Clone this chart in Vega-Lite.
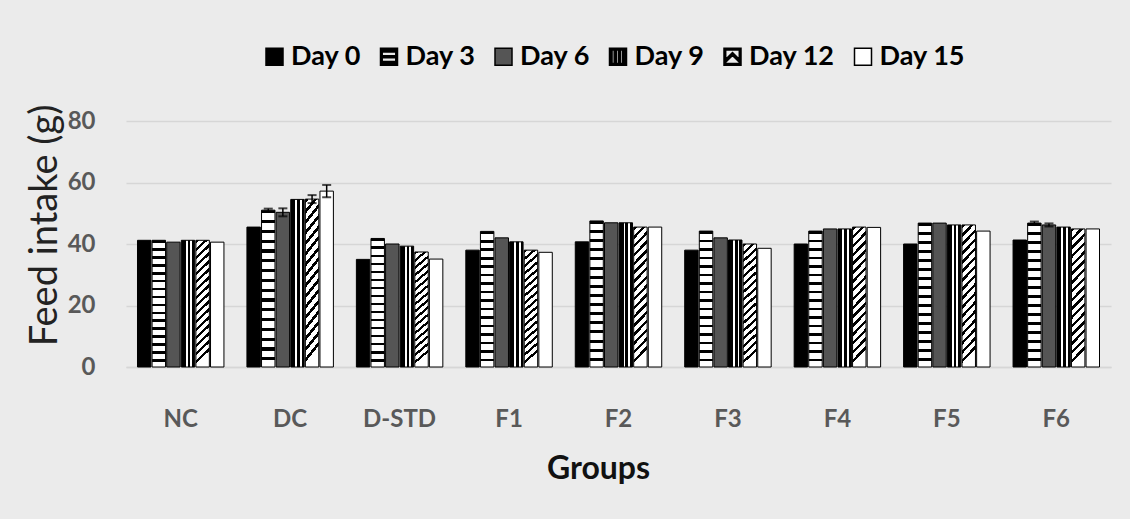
{
  "$schema": "https://vega.github.io/schema/vega-lite/v6.json",
  "width": 985,
  "height": 246,
  "autosize": {"type": "none"},
  "padding": {"left": 126, "top": 121, "right": 19, "bottom": 152},
  "background": "#ebebeb",
  "config": {
    "view": {"stroke": null},
    "font": "Lato",
    "legend": {
      "title": null, "orient": "none", "direction": "horizontal",
      "legendX": 135, "legendY": -78,
      "symbolSize": 289,
      "labelFont": "Lato", "labelFontSize": 27, "labelFontWeight": "bold", "labelColor": "#000000",
      "labelOffset": 3, "columnPadding": 14.5, "symbolOpacity": 1
    }
  },
  "datasets": {
    "bars": [
      {"group": "NC", "day": "Day 0", "value": 41.2},
      {"group": "NC", "day": "Day 3", "value": 41.2},
      {"group": "NC", "day": "Day 6", "value": 40.6},
      {"group": "NC", "day": "Day 9", "value": 41.2},
      {"group": "NC", "day": "Day 12", "value": 41.2},
      {"group": "NC", "day": "Day 15", "value": 40.6},
      {"group": "DC", "day": "Day 0", "value": 45.5},
      {"group": "DC", "day": "Day 3", "value": 51.0},
      {"group": "DC", "day": "Day 6", "value": 50.3},
      {"group": "DC", "day": "Day 9", "value": 54.5},
      {"group": "DC", "day": "Day 12", "value": 54.6},
      {"group": "DC", "day": "Day 15", "value": 57.2},
      {"group": "D-STD", "day": "Day 0", "value": 35.0},
      {"group": "D-STD", "day": "Day 3", "value": 41.8},
      {"group": "D-STD", "day": "Day 6", "value": 40.0},
      {"group": "D-STD", "day": "Day 9", "value": 39.3},
      {"group": "D-STD", "day": "Day 12", "value": 37.4},
      {"group": "D-STD", "day": "Day 15", "value": 35.1},
      {"group": "F1", "day": "Day 0", "value": 38.0},
      {"group": "F1", "day": "Day 3", "value": 44.1},
      {"group": "F1", "day": "Day 6", "value": 42.0},
      {"group": "F1", "day": "Day 9", "value": 40.7},
      {"group": "F1", "day": "Day 12", "value": 38.0},
      {"group": "F1", "day": "Day 15", "value": 37.3},
      {"group": "F2", "day": "Day 0", "value": 40.7},
      {"group": "F2", "day": "Day 3", "value": 47.5},
      {"group": "F2", "day": "Day 6", "value": 46.9},
      {"group": "F2", "day": "Day 9", "value": 46.9},
      {"group": "F2", "day": "Day 12", "value": 45.5},
      {"group": "F2", "day": "Day 15", "value": 45.5},
      {"group": "F3", "day": "Day 0", "value": 38.0},
      {"group": "F3", "day": "Day 3", "value": 44.2},
      {"group": "F3", "day": "Day 6", "value": 42.0},
      {"group": "F3", "day": "Day 9", "value": 41.3},
      {"group": "F3", "day": "Day 12", "value": 40.0},
      {"group": "F3", "day": "Day 15", "value": 38.6},
      {"group": "F4", "day": "Day 0", "value": 40.0},
      {"group": "F4", "day": "Day 3", "value": 44.2},
      {"group": "F4", "day": "Day 6", "value": 44.9},
      {"group": "F4", "day": "Day 9", "value": 44.9},
      {"group": "F4", "day": "Day 12", "value": 45.5},
      {"group": "F4", "day": "Day 15", "value": 45.4},
      {"group": "F5", "day": "Day 0", "value": 40.0},
      {"group": "F5", "day": "Day 3", "value": 46.8},
      {"group": "F5", "day": "Day 6", "value": 46.8},
      {"group": "F5", "day": "Day 9", "value": 46.2},
      {"group": "F5", "day": "Day 12", "value": 46.2},
      {"group": "F5", "day": "Day 15", "value": 44.2},
      {"group": "F6", "day": "Day 0", "value": 41.3},
      {"group": "F6", "day": "Day 3", "value": 46.8},
      {"group": "F6", "day": "Day 6", "value": 46.2},
      {"group": "F6", "day": "Day 9", "value": 45.5},
      {"group": "F6", "day": "Day 12", "value": 44.9},
      {"group": "F6", "day": "Day 15", "value": 44.9}
    ],
    "errs": [
      {"group": "DC", "day": "Day 3", "lo": 50.5, "hi": 51.5},
      {"group": "DC", "day": "Day 6", "lo": 49.0, "hi": 51.6},
      {"group": "DC", "day": "Day 12", "lo": 53.3, "hi": 55.9},
      {"group": "DC", "day": "Day 15", "lo": 55.2, "hi": 59.2},
      {"group": "F6", "day": "Day 3", "lo": 46.3, "hi": 47.3},
      {"group": "F6", "day": "Day 6", "lo": 45.7, "hi": 46.7}
    ]
  },
  "layer": [
    {
      "data": {"name": "bars"},
      "mark": {"type": "bar", "stroke": "black", "strokeWidth": 1},
      "encoding": {
        "x": {
          "field": "group", "type": "nominal",
          "sort": ["NC", "DC", "D-STD", "F1", "F2", "F3", "F4", "F5", "F6"],
          "scale": {"paddingInner": 0.21, "paddingOuter": 0.105},
          "axis": {
            "title": "Groups", "labelAngle": 0, "ticks": false,
            "domainColor": "#d6d6d6", "domainWidth": 1.5,
            "labelFont": "Lato", "labelFontSize": 24, "labelFontWeight": "bold", "labelColor": "#595959",
            "labelPadding": 40, "labelBaseline": "top",
            "titleFont": "Lato", "titleFontSize": 32, "titleFontWeight": "bold", "titleColor": "#111111",
            "titleX": 472, "titleY": 101, "titleBaseline": "middle", "titleAnchor": null, "titleAlign": "center"
          }
        },
        "xOffset": {
          "field": "day", "type": "nominal",
          "sort": ["Day 0", "Day 3", "Day 6", "Day 9", "Day 12", "Day 15"],
          "scale": {"domain": ["Day 0", "Day 3", "Day 6", "Day 9", "Day 12", "Day 15"], "paddingInner": 0.08, "paddingOuter": 0}
        },
        "y": {
          "field": "value", "type": "quantitative",
          "scale": {"domain": [0, 80], "nice": false},
          "axis": {
            "values": [0, 20, 40, 60, 80], "ticks": false, "domain": false,
            "gridColor": "#d6d6d6", "gridWidth": 1.5,
            "labelFont": "Lato", "labelFontSize": 24, "labelFontWeight": "bold", "labelColor": "#595959",
            "labelPadding": 31,
            "title": "Feed intake (g)",
            "titleFont": "Lato", "titleFontSize": 38, "titleFontWeight": "normal", "titleColor": "#222222",
            "titleX": -81, "titleY": 104, "titleAngle": -90, "titleAlign": "center", "titleBaseline": "middle", "titleAnchor": null
          }
        },
        "color": {
          "condition": [
            {"test": "datum.day === 'Day 3'", "value": {"gradient": "linear", "x1": 0, "y1": 0, "x2": 0, "y2": 1, "stops": [
                {"offset": 0, "color": "black"}, {"offset": 0.02, "color": "black"}, {"offset": 0.02, "color": "white"}, {"offset": 0.0625, "color": "white"},
                {"offset": 0.0625, "color": "black"}, {"offset": 0.0825, "color": "black"}, {"offset": 0.0825, "color": "white"}, {"offset": 0.125, "color": "white"},
                {"offset": 0.125, "color": "black"}, {"offset": 0.145, "color": "black"}, {"offset": 0.145, "color": "white"}, {"offset": 0.1875, "color": "white"},
                {"offset": 0.1875, "color": "black"}, {"offset": 0.2075, "color": "black"}, {"offset": 0.2075, "color": "white"}, {"offset": 0.25, "color": "white"},
                {"offset": 0.25, "color": "black"}, {"offset": 0.27, "color": "black"}, {"offset": 0.27, "color": "white"}, {"offset": 0.3125, "color": "white"},
                {"offset": 0.3125, "color": "black"}, {"offset": 0.3325, "color": "black"}, {"offset": 0.3325, "color": "white"}, {"offset": 0.375, "color": "white"},
                {"offset": 0.375, "color": "black"}, {"offset": 0.395, "color": "black"}, {"offset": 0.395, "color": "white"}, {"offset": 0.4375, "color": "white"},
                {"offset": 0.4375, "color": "black"}, {"offset": 0.4575, "color": "black"}, {"offset": 0.4575, "color": "white"}, {"offset": 0.5, "color": "white"},
                {"offset": 0.5, "color": "black"}, {"offset": 0.52, "color": "black"}, {"offset": 0.52, "color": "white"}, {"offset": 0.5625, "color": "white"},
                {"offset": 0.5625, "color": "black"}, {"offset": 0.5825, "color": "black"}, {"offset": 0.5825, "color": "white"}, {"offset": 0.625, "color": "white"},
                {"offset": 0.625, "color": "black"}, {"offset": 0.645, "color": "black"}, {"offset": 0.645, "color": "white"}, {"offset": 0.6875, "color": "white"},
                {"offset": 0.6875, "color": "black"}, {"offset": 0.7075, "color": "black"}, {"offset": 0.7075, "color": "white"}, {"offset": 0.75, "color": "white"},
                {"offset": 0.75, "color": "black"}, {"offset": 0.77, "color": "black"}, {"offset": 0.77, "color": "white"}, {"offset": 0.8125, "color": "white"},
                {"offset": 0.8125, "color": "black"}, {"offset": 0.8325, "color": "black"}, {"offset": 0.8325, "color": "white"}, {"offset": 0.875, "color": "white"},
                {"offset": 0.875, "color": "black"}, {"offset": 0.895, "color": "black"}, {"offset": 0.895, "color": "white"}, {"offset": 0.9375, "color": "white"},
                {"offset": 0.9375, "color": "black"}, {"offset": 0.9575, "color": "black"}, {"offset": 0.9575, "color": "white"}, {"offset": 1, "color": "white"}
              ]}},
            {"test": "datum.day === 'Day 9'", "value": {"gradient": "linear", "x1": 0, "y1": 0, "x2": 1, "y2": 0, "stops": [
                {"offset": 0, "color": "black"}, {"offset": 0.33, "color": "black"}, {"offset": 0.33, "color": "white"}, {"offset": 0.47, "color": "white"},
                {"offset": 0.47, "color": "black"}, {"offset": 0.67, "color": "black"}, {"offset": 0.67, "color": "white"}, {"offset": 0.81, "color": "white"},
                {"offset": 0.81, "color": "black"}, {"offset": 1, "color": "black"}
              ]}},
            {"test": "datum.day === 'Day 12'", "value": {"gradient": "linear", "x1": 0, "y1": 0, "x2": 0.1, "y2": 1, "stops": [
                {"offset": 0, "color": "black"}, {"offset": 0.025, "color": "black"}, {"offset": 0.025, "color": "white"}, {"offset": 0.0625, "color": "white"},
                {"offset": 0.0625, "color": "black"}, {"offset": 0.0875, "color": "black"}, {"offset": 0.0875, "color": "white"}, {"offset": 0.125, "color": "white"},
                {"offset": 0.125, "color": "black"}, {"offset": 0.15, "color": "black"}, {"offset": 0.15, "color": "white"}, {"offset": 0.1875, "color": "white"},
                {"offset": 0.1875, "color": "black"}, {"offset": 0.2125, "color": "black"}, {"offset": 0.2125, "color": "white"}, {"offset": 0.25, "color": "white"},
                {"offset": 0.25, "color": "black"}, {"offset": 0.275, "color": "black"}, {"offset": 0.275, "color": "white"}, {"offset": 0.3125, "color": "white"},
                {"offset": 0.3125, "color": "black"}, {"offset": 0.3375, "color": "black"}, {"offset": 0.3375, "color": "white"}, {"offset": 0.375, "color": "white"},
                {"offset": 0.375, "color": "black"}, {"offset": 0.4, "color": "black"}, {"offset": 0.4, "color": "white"}, {"offset": 0.4375, "color": "white"},
                {"offset": 0.4375, "color": "black"}, {"offset": 0.4625, "color": "black"}, {"offset": 0.4625, "color": "white"}, {"offset": 0.5, "color": "white"},
                {"offset": 0.5, "color": "black"}, {"offset": 0.525, "color": "black"}, {"offset": 0.525, "color": "white"}, {"offset": 0.5625, "color": "white"},
                {"offset": 0.5625, "color": "black"}, {"offset": 0.5875, "color": "black"}, {"offset": 0.5875, "color": "white"}, {"offset": 0.625, "color": "white"},
                {"offset": 0.625, "color": "black"}, {"offset": 0.65, "color": "black"}, {"offset": 0.65, "color": "white"}, {"offset": 0.6875, "color": "white"},
                {"offset": 0.6875, "color": "black"}, {"offset": 0.7125, "color": "black"}, {"offset": 0.7125, "color": "white"}, {"offset": 0.75, "color": "white"},
                {"offset": 0.75, "color": "black"}, {"offset": 0.775, "color": "black"}, {"offset": 0.775, "color": "white"}, {"offset": 0.8125, "color": "white"},
                {"offset": 0.8125, "color": "black"}, {"offset": 0.8375, "color": "black"}, {"offset": 0.8375, "color": "white"}, {"offset": 0.875, "color": "white"},
                {"offset": 0.875, "color": "black"}, {"offset": 0.9, "color": "black"}, {"offset": 0.9, "color": "white"}, {"offset": 0.9375, "color": "white"},
                {"offset": 0.9375, "color": "black"}, {"offset": 0.9625, "color": "black"}, {"offset": 0.9625, "color": "white"}, {"offset": 1, "color": "white"}
              ]}}
          ],
          "field": "day", "type": "nominal",
          "sort": ["Day 0", "Day 3", "Day 6", "Day 9", "Day 12", "Day 15"],
          "scale": {
            "domain": ["Day 0", "Day 3", "Day 6", "Day 9", "Day 12", "Day 15"],
            "range": ["#000000", "#000000", "#555555", "#000000", "#000000", "#ffffff"]
          }
        }
      }
    },
    {
      "data": {"name": "bars"},
      "mark": {"type": "point", "filled": true, "size": 0, "strokeWidth": 0},
      "encoding": {
        "x": {"field": "group", "type": "nominal", "sort": ["NC", "DC", "D-STD", "F1", "F2", "F3", "F4", "F5", "F6"]},
        "xOffset": {"field": "day", "type": "nominal", "sort": ["Day 0", "Day 3", "Day 6", "Day 9", "Day 12", "Day 15"]},
        "y": {"field": "value", "type": "quantitative"},
        "color": {
          "field": "day", "type": "nominal",
          "sort": ["Day 0", "Day 3", "Day 6", "Day 9", "Day 12", "Day 15"]
        },
        "shape": {
          "field": "day", "type": "nominal",
          "sort": ["Day 0", "Day 3", "Day 6", "Day 9", "Day 12", "Day 15"],
          "scale": {
            "domain": ["Day 0", "Day 3", "Day 6", "Day 9", "Day 12", "Day 15"],
            "range": [
              "square",
              "M-1,-1H1V-0.55H-1Z M-1,-0.12H1V0.12H-1Z M-1,0.55H1V1H-1Z M-1,-1H-0.8V1H-1Z M0.8,-1H1V1H0.8Z",
              "square",
              "M-1,-1H1V-0.8H-1Z M-1,0.8H1V1H-1Z M-1,-1H-0.7V1H-1Z M-0.45,-1H-0.2V1H-0.45Z M0.05,-1H0.3V1H0.05Z M0.55,-1H0.8V1H0.55Z M0.85,-1H1V1H0.85Z",
              "M-1,-1H1V-0.8H-1Z M-1,0.8H1V1H-1Z M-1,-1H-0.8V1H-1Z M0.8,-1H1V1H0.8Z M-0.8,0.3L0,-0.5L0.8,0.3V0.65L0,-0.15L-0.8,0.65Z",
              "square"
            ]
          }
        }
      }
    },
    {
      "data": {"name": "errs"},
      "mark": {"type": "rule", "color": "black", "strokeWidth": 1.5},
      "encoding": {
        "x": {"field": "group", "type": "nominal", "sort": ["NC", "DC", "D-STD", "F1", "F2", "F3", "F4", "F5", "F6"]},
        "xOffset": {"field": "day", "type": "nominal", "sort": ["Day 0", "Day 3", "Day 6", "Day 9", "Day 12", "Day 15"]},
        "y": {"field": "lo", "type": "quantitative"},
        "y2": {"field": "hi"}
      }
    },
    {
      "data": {"name": "errs"},
      "mark": {"type": "tick", "color": "black", "thickness": 2, "size": 9, "orient": "horizontal"},
      "encoding": {
        "x": {"field": "group", "type": "nominal", "sort": ["NC", "DC", "D-STD", "F1", "F2", "F3", "F4", "F5", "F6"]},
        "xOffset": {"field": "day", "type": "nominal", "sort": ["Day 0", "Day 3", "Day 6", "Day 9", "Day 12", "Day 15"]},
        "y": {"field": "hi", "type": "quantitative"}
      }
    },
    {
      "data": {"name": "errs"},
      "mark": {"type": "tick", "color": "black", "thickness": 2, "size": 9, "orient": "horizontal"},
      "encoding": {
        "x": {"field": "group", "type": "nominal", "sort": ["NC", "DC", "D-STD", "F1", "F2", "F3", "F4", "F5", "F6"]},
        "xOffset": {"field": "day", "type": "nominal", "sort": ["Day 0", "Day 3", "Day 6", "Day 9", "Day 12", "Day 15"]},
        "y": {"field": "lo", "type": "quantitative"}
      }
    }
  ]
}
